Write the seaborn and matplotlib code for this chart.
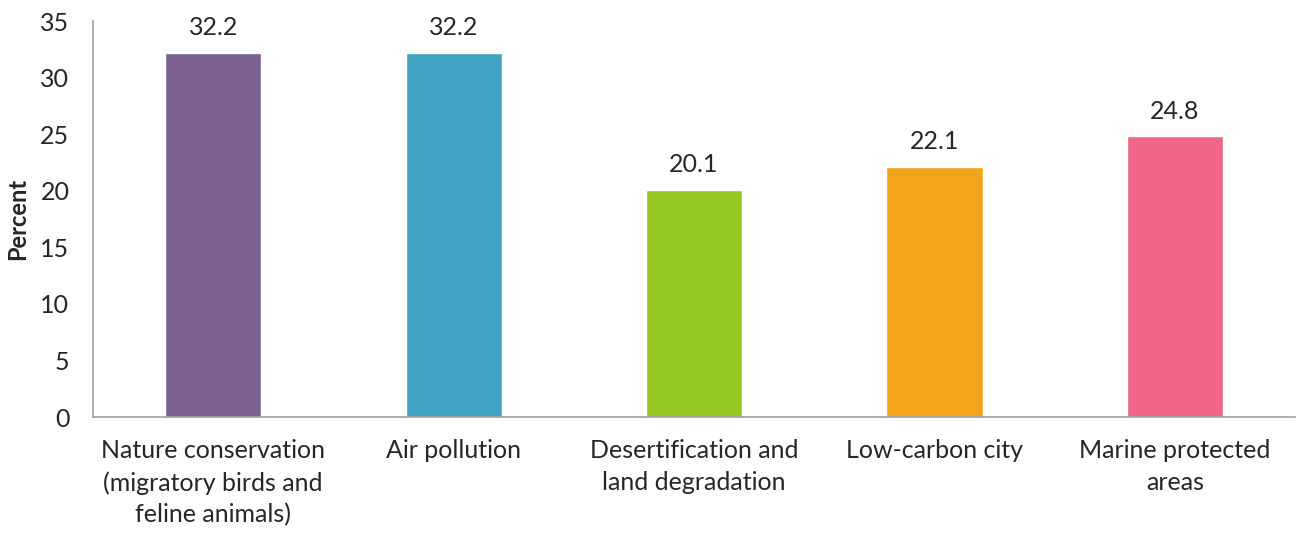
import matplotlib
matplotlib.use("Agg")
import matplotlib.pyplot as plt
import seaborn as sns
import pandas as pd

categories = ["Nature conservation\n(migratory birds and\nfeline animals)", "Air pollution",
              "Desertification and\nland degradation", "Low-carbon city", "Marine protected\nareas"]
values = [32.2, 32.2, 20.1, 22.1, 24.8]
colors = ["#7B6190", "#40A3C1", "#97C824", "#F4A41B", "#F06687"]
yticks = [0, 5, 10, 15, 20, 25, 30, 35]

sns.set_style("white")
plt.rcParams['font.family'] = ['Lato', 'DejaVu Sans']

df = pd.DataFrame({"cat": categories, "val": values})
fig = plt.figure(figsize=(13.03, 5.36), dpi=100)
ax = fig.add_axes([0.0714, 0.222, 0.9225, 0.7388])
sns.barplot(data=df, x="cat", y="val", hue="cat", palette=colors, width=0.40,
            legend=False, ax=ax, saturation=1)
ax.set_xlim(-0.5, 4.5)
ax.set_ylim(0, 35)
ax.set_yticks(yticks)
ax.set_xlabel("")
ax.set_ylabel("Percent", fontsize=17, fontweight="bold", labelpad=8)
for s in ["top", "right"]:
    ax.spines[s].set_visible(False)
for s in ["left", "bottom"]:
    ax.spines[s].set_color("#A0A0A0")
    ax.spines[s].set_linewidth(1.2)
ax.tick_params(axis="y", direction="in", length=7, color="#A0A0A0", labelsize=18, pad=17)
ax.set_xticks([0, 1, 2, 3, 4])
ax.set_xticklabels(categories, fontsize=18, linespacing=1.45)
ax.tick_params(axis="x", length=0, pad=16)
ax.set_xticks([-0.5, 0.5, 1.5, 2.5, 3.5, 4.5], minor=True)
ax.tick_params(axis="x", which="minor", direction="in", length=8, color="#A0A0A0", width=1.2)
for c in ax.containers:
    ax.bar_label(c, labels=[f"{v:.1f}" for v in c.datavalues], fontsize=18, padding=10)
fig.savefig("out.png", dpi=100)
